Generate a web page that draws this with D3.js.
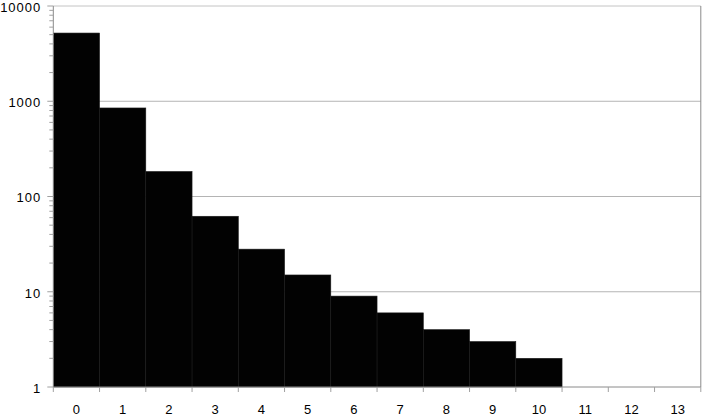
<!DOCTYPE html>
<html>
<head>
<meta charset="utf-8">
<script src="https://cdn.jsdelivr.net/npm/d3@7"></script>
<style>
  body { margin: 0; background: #fff; }
  text { font-family: "Liberation Sans", Arial, sans-serif; fill: #000; }
</style>
</head>
<body>
<div id="chart"></div>
<script>
const categories = ["0", "1", "2", "3", "4", "5", "6", "7", "8", "9", "10", "11", "12", "13"];
const counts = [5200, 850, 183, 62, 28, 15, 9, 6, 4, 3, 2, 0, 0, 0];
const yTicks = [1, 10, 100, 1000, 10000];

let width = 703,
    height = 415;
const margin = { top: 6, right: 2.2, bottom: 28, left: 53.3 };

const x = d3.scaleBand()
    .domain(categories)
    .range([margin.left, width - margin.right]);

const y = d3.scaleLog()
    .domain([1, 10000])
    .range([height - margin.bottom, margin.top]);

const svg = d3.select("#chart").append("svg")
    .attr("width", width)
    .attr("height", height);

// horizontal grid at each decade
svg.append("g")
    .selectAll("line")
    .data(yTicks.slice(1, -1))
    .join("line")
    .attr("x1", margin.left)
    .attr("x2", width - margin.right)
    .attr("y1", d => y(d))
    .attr("y2", d => y(d))
    .attr("stroke", "#b4b4b4");

// top and right border
svg.append("line")
    .attr("x1", margin.left).attr("x2", width - margin.right)
    .attr("y1", y(10000)).attr("y2", y(10000))
    .attr("stroke", "#c4c4c4");
svg.append("line")
    .attr("x1", width - margin.right).attr("x2", width - margin.right)
    .attr("y1", margin.top).attr("y2", height - margin.bottom)
    .attr("stroke", "#8a8a8a");

// bars
svg.append("g")
    .selectAll("rect")
    .data(counts.map((v, i) => ({ cat: categories[i], v })).filter(d => d.v > 0))
    .join("rect")
    .attr("x", d => x(d.cat))
    .attr("width", x.bandwidth())
    .attr("y", d => y(d.v))
    .attr("height", d => y(1) - y(d.v))
    .attr("fill", "#020202")
    .attr("stroke", "#1a1a1a")
    .attr("stroke-width", 0.6);

// y axis, major and minor ticks
const minor = [];
for (let p = 1; p < 10000; p *= 10)
    for (let k = 2; k < 10; k++) minor.push(p * k);

const yAxis = svg.append("g").attr("transform", `translate(${margin.left},0)`);
yAxis.append("line")
    .attr("y1", margin.top).attr("y2", height - margin.bottom)
    .attr("stroke", "#8a8a8a");
yAxis.selectAll("line.minor")
    .data(minor)
    .join("line")
    .attr("class", "minor")
    .attr("x1", -4).attr("x2", 0)
    .attr("y1", d => y(d)).attr("y2", d => y(d))
    .attr("stroke", "#a0a0a0");
yAxis.selectAll("line.major")
    .data(yTicks)
    .join("line")
    .attr("class", "major")
    .attr("x1", -6).attr("x2", 0)
    .attr("y1", d => y(d)).attr("y2", d => y(d))
    .attr("stroke", "#a0a0a0");
yAxis.selectAll("text")
    .data(yTicks)
    .join("text")
    .attr("x", -12)
    .attr("y", d => y(d))
    .attr("dy", "0.45em")
    .attr("text-anchor", "end")
    .attr("font-size", 13)
    .attr("letter-spacing", 1)
    .text(d => d);

// x axis
const xAxis = svg.append("g").attr("transform", `translate(0,${height - margin.bottom})`);
xAxis.append("line")
    .attr("x1", margin.left).attr("x2", width - margin.right)
    .attr("stroke", "#8a8a8a");
xAxis.selectAll("line.tick")
    .data(categories.concat(["end"]))
    .join("line")
    .attr("class", "tick")
    .attr("x1", (d, i) => margin.left + i * x.bandwidth())
    .attr("x2", (d, i) => margin.left + i * x.bandwidth())
    .attr("y1", 0).attr("y2", 5)
    .attr("stroke", "#a0a0a0");
xAxis.selectAll("text")
    .data(categories)
    .join("text")
    .attr("x", d => x(d) + x.bandwidth() / 2)
    .attr("y", 26.5)
    .attr("text-anchor", "middle")
    .attr("font-size", 13)
    .text(d => d);
</script>
</body>
</html>
